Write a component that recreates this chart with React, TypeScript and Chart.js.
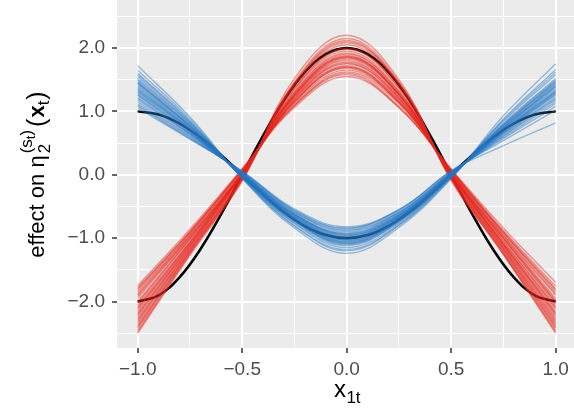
import React, { useEffect, useRef } from "react";
import { Chart, registerables } from "chart.js";
Chart.register(...registerables);

const sampleX = [-1, -0.75, -0.5, -0.25, 0, 0.25, 0.5, 0.75, 1];

const redSamples = [
  [-2.10, -1.06, 0.02, 1.25, 1.85, 1.27, 0.00, -1.08, -2.12],
  [-1.80, -0.90, 0.08, 1.15, 1.70, 1.14, 0.06, -0.92, -1.85],
  [-2.45, -1.24, -0.08, 1.44, 2.10, 1.45, -0.07, -1.25, -2.45],
  [-1.95, -0.98, 0.00, 1.19, 1.75, 1.20, 0.02, -1.02, -2.05],
  [-2.30, -1.16, -0.04, 1.36, 1.98, 1.37, -0.05, -1.19, -2.35],
  [-1.75, -0.86, 0.10, 1.09, 1.58, 1.06, 0.09, -0.84, -1.70],
  [-2.20, -1.11, 0.00, 1.30, 1.90, 1.31, 0.00, -1.13, -2.25],
  [-2.50, -1.27, -0.10, 1.52, 2.20, 1.50, -0.09, -1.26, -2.50],
  [-2.05, -1.02, 0.03, 1.23, 1.80, 1.22, 0.02, -1.00, -2.00],
  [-1.85, -0.93, 0.06, 1.13, 1.65, 1.14, 0.05, -0.97, -1.95],
  [-2.35, -1.19, -0.05, 1.40, 2.05, 1.41, -0.04, -1.22, -2.40],
  [-2.15, -1.08, 0.01, 1.28, 1.88, 1.27, 0.01, -1.10, -2.20],
  [-1.90, -0.96, 0.04, 1.15, 1.68, 1.14, 0.06, -0.90, -1.80],
  [-2.40, -1.21, -0.05, 1.34, 1.95, 1.33, -0.02, -1.16, -2.30],
  [-2.00, -1.00, 0.02, 1.21, 1.78, 1.22, 0.03, -1.05, -2.10],
  [-2.25, -1.13, -0.02, 1.31, 1.92, 1.30, -0.03, -1.15, -2.28],
  [-1.78, -0.89, 0.08, 1.11, 1.62, 1.12, 0.07, -0.94, -1.88],
  [-2.28, -1.15, 0.00, 1.27, 1.86, 1.26, 0.00, -1.10, -2.18],
  [-2.12, -1.07, 0.02, 1.20, 1.76, 1.19, 0.03, -0.99, -1.98],
  [-2.38, -1.20, -0.06, 1.42, 2.08, 1.43, -0.06, -1.22, -2.42],
  [-1.88, -0.94, 0.07, 1.09, 1.60, 1.08, 0.08, -0.91, -1.82],
  [-2.18, -1.10, 0.01, 1.25, 1.84, 1.26, 0.01, -1.09, -2.16],
  [-2.48, -1.25, -0.08, 1.47, 2.15, 1.47, -0.08, -1.25, -2.48],
  [-2.02, -1.01, 0.02, 1.17, 1.72, 1.17, 0.03, -1.01, -2.02],
  [-1.82, -0.91, 0.08, 1.06, 1.55, 1.06, 0.08, -0.88, -1.76],
  [-2.32, -1.17, -0.03, 1.37, 2.00, 1.37, -0.03, -1.17, -2.33],
  [-2.08, -1.05, 0.02, 1.24, 1.82, 1.25, 0.02, -1.05, -2.08],
  [-1.92, -0.97, 0.04, 1.16, 1.70, 1.16, 0.05, -0.96, -1.90],
  [-2.42, -1.22, -0.07, 1.45, 2.12, 1.44, -0.05, -1.19, -2.38],
  [-2.22, -1.12, 0.00, 1.27, 1.87, 1.28, 0.00, -1.12, -2.22],
];

const blueSamples = [
  [1.35, 0.72, 0.00, -0.67, -1.00, -0.67, 0.00, 0.70, 1.32],
  [1.10, 0.58, 0.05, -0.56, -0.85, -0.55, 0.05, 0.59, 1.12],
  [1.60, 0.85, -0.05, -0.80, -1.18, -0.79, -0.04, 0.86, 1.62],
  [1.25, 0.66, 0.02, -0.63, -0.95, -0.64, 0.02, 0.68, 1.28],
  [1.48, 0.78, -0.03, -0.73, -1.08, -0.72, -0.02, 0.77, 1.45],
  [1.05, 0.56, 0.06, -0.54, -0.82, -0.55, 0.06, 0.54, 1.02],
  [1.40, 0.74, 0.00, -0.69, -1.03, -0.70, 0.00, 0.73, 1.38],
  [1.72, 0.91, -0.06, -0.84, -1.24, -0.83, -0.06, 0.93, 1.75],
  [1.30, 0.69, 0.01, -0.66, -0.98, -0.66, 0.01, 0.69, 1.30],
  [1.18, 0.63, 0.03, -0.60, -0.90, -0.60, 0.03, 0.61, 1.15],
  [1.55, 0.82, -0.04, -0.76, -1.12, -0.75, -0.03, 0.81, 1.52],
  [1.38, 0.73, 0.00, -0.69, -1.02, -0.68, 0.00, 0.72, 1.36],
  [1.15, 0.61, 0.03, -0.59, -0.88, -0.59, 0.03, 0.64, 1.20],
  [1.52, 0.81, -0.03, -0.74, -1.10, -0.74, -0.02, 0.80, 1.50],
  [1.28, 0.68, 0.01, -0.64, -0.96, -0.64, 0.01, 0.66, 1.25],
  [1.45, 0.77, -0.02, -0.71, -1.06, -0.71, -0.01, 0.76, 1.44],
  [1.08, 0.57, 0.05, -0.56, -0.84, -0.56, 0.06, 0.46, 0.82],
  [1.42, 0.75, -0.01, -0.70, -1.05, -0.70, 0.00, 0.75, 1.42],
  [1.22, 0.65, 0.02, -0.62, -0.93, -0.62, 0.02, 0.65, 1.22],
  [1.65, 0.88, -0.05, -0.81, -1.20, -0.80, -0.05, 0.88, 1.66],
  [1.32, 0.70, 0.00, -0.66, -0.99, -0.66, 0.00, 0.71, 1.34],
  [1.20, 0.64, 0.03, -0.62, -0.92, -0.61, 0.03, 0.62, 1.18],
  [1.50, 0.80, -0.03, -0.73, -1.09, -0.73, -0.03, 0.78, 1.48],
  [1.36, 0.72, 0.00, -0.68, -1.01, -0.68, 0.00, 0.74, 1.40],
  [1.12, 0.60, 0.04, -0.58, -0.87, -0.58, 0.04, 0.57, 1.08],
  [1.44, 0.76, -0.02, -0.70, -1.04, -0.70, -0.01, 0.74, 1.40],
  [1.26, 0.67, 0.01, -0.63, -0.94, -0.63, 0.01, 0.67, 1.27],
  [1.58, 0.84, -0.04, -0.77, -1.15, -0.77, -0.03, 0.84, 1.58],
  [1.33, 0.71, 0.00, -0.65, -0.97, -0.65, 0.00, 0.69, 1.31],
  [1.46, 0.77, -0.02, -0.72, -1.07, -0.72, -0.01, 0.78, 1.47],
];

const truthX = [-1, -0.9, -0.8, -0.7, -0.6, -0.5, -0.4, -0.3, -0.2, -0.1, 0, 0.1, 0.2, 0.3, 0.4, 0.5, 0.6, 0.7, 0.8, 0.9, 1];
const redTruth = [-2, -1.902, -1.618, -1.176, -0.618, 0, 0.618, 1.176, 1.618, 1.902, 2, 1.902, 1.618, 1.176, 0.618, 0, -0.618, -1.176, -1.618, -1.902, -2];
const blueTruth = [1, 0.951, 0.809, 0.588, 0.309, 0, -0.309, -0.588, -0.809, -0.951, -1, -0.951, -0.809, -0.588, -0.309, 0, 0.309, 0.588, 0.809, 0.951, 1];

const xTicks = [-1, -0.75, -0.5, -0.25, 0, 0.25, 0.5, 0.75, 1];
const xMajor = [-1, -0.5, 0, 0.5, 1];
const yTicks = [-2.5, -2, -1.5, -1, -0.5, 0, 0.5, 1, 1.5, 2, 2.5];
const yMajor = [-2, -1, 0, 1, 2];

const RED = "rgba(228, 38, 28, 0.45)";
const BLUE = "rgba(38, 118, 192, 0.45)";
const FONT = '"Liberation Sans", Arial, sans-serif';

const fmt = (v: number) => (v < 0 ? "\u2212" : "") + Math.abs(v).toFixed(1);

const toPts = (xs: number[], ys: number[]) => xs.map((x, i) => ({ x, y: ys[i] }));

const titlesPlugin = {
  id: "titles",
  beforeDraw(chart: any) {
    const { ctx, chartArea } = chart;
    ctx.save();
    ctx.fillStyle = "#EBEBEB";
    ctx.fillRect(chartArea.left, chartArea.top, chartArea.right - chartArea.left, chartArea.bottom - chartArea.top);
    ctx.restore();
  },
  afterDraw(chart: any) {
    const { ctx } = chart;
    ctx.save();
    ctx.fillStyle = "#000";
    ctx.textBaseline = "alphabetic";
    const meas = (t: string, f: string) => { ctx.font = f; return ctx.measureText(t).width; };

    // x title: x_{1t}
    const xBig = `24px ${FONT}`;
    const xSmall = `17px ${FONT}`;
    const wx = meas("x", xBig);
    const ws = meas("1t", xSmall);
    const cx = 347;
    const sx = cx - (wx + ws) / 2;
    ctx.font = xBig;
    ctx.fillText("x", sx, 396.5);
    ctx.font = xSmall;
    ctx.fillText("1t", sx + wx + 0.5, 403);

    // y title: effect on η2^(s_t)(x_t)
    const big = `22px ${FONT}`;
    const paren = `25px ${FONT}`;
    const bold = `bold 22px ${FONT}`;
    const small = `17px ${FONT}`;
    const tiny = `13px ${FONT}`;
    ctx.translate(44, 174.5);
    ctx.rotate(-Math.PI / 2);
    const w1 = meas("effect on \u03B7", big);
    const w2 = meas("2", small);
    const w3 = meas("(s", small) + meas("t", tiny) + meas(")", small);
    const wStack = Math.max(w2, w3);
    const w4 = 2 * meas("(", paren) + meas("x", bold) + meas("t", small) + 2;
    const total = w1 + 2 + wStack + 3 + w4;
    let px = -total / 2;
    ctx.font = big;
    ctx.fillText("effect on \u03B7", px, 0);
    px += w1 + 2;
    ctx.font = small;
    ctx.fillText("2", px, 6);
    let qx = px;
    ctx.fillText("(s", qx, -12);
    qx += meas("(s", small);
    ctx.font = tiny;
    ctx.fillText("t", qx, -9);
    qx += meas("t", tiny);
    ctx.font = small;
    ctx.fillText(")", qx, -12);
    px += wStack + 3;
    ctx.font = paren;
    ctx.fillText("(", px, 1);
    px += meas("(", paren) + 1;
    ctx.font = bold;
    ctx.fillText("x", px, 0);
    px += meas("x", bold);
    ctx.font = small;
    ctx.fillText("t", px, 5);
    px += meas("t", small) + 1;
    ctx.font = paren;
    ctx.fillText(")", px, 1);
    ctx.restore();
  },
};

export default function App() {
  const ref = useRef<HTMLCanvasElement>(null);
  useEffect(() => {
    if (!ref.current) return;
    const datasets: any[] = [];
    blueSamples.forEach((ys) =>
      datasets.push({ data: toPts(sampleX, ys), borderColor: BLUE, borderWidth: 1.4, pointRadius: 0, tension: 0.4 })
    );
    redSamples.forEach((ys) =>
      datasets.push({ data: toPts(sampleX, ys), borderColor: RED, borderWidth: 1.4, pointRadius: 0, tension: 0.4 })
    );
    datasets.push({ data: toPts(truthX, redTruth), borderColor: "#000", borderWidth: 2.5, pointRadius: 0, tension: 0.4 });
    datasets.push({ data: toPts(truthX, blueTruth), borderColor: "#000", borderWidth: 2.5, pointRadius: 0, tension: 0.4 });

    const chart = new Chart(ref.current, {
      type: "line",
      data: { datasets },
      plugins: [titlesPlugin],
      options: {
        animation: false,
        responsive: false,
        layout: { padding: 0 },
        plugins: { legend: { display: false }, tooltip: { enabled: false } },
        scales: {
          x: {
            type: "linear",
            min: -1.099,
            max: 1.0876,
            afterBuildTicks: (axis: any) => { axis.ticks = xTicks.map((v) => ({ value: v })); },
            afterFit: (s: any) => { s.height = 62; s.paddingLeft = 0; s.paddingRight = 0; },
            border: { display: false },
            grid: {
              color: "#FFFFFF",
              lineWidth: (c: any) => (c.tick && xMajor.includes(c.tick.value) ? 2 : 1),
              tickColor: (c: any) => (c.tick && xMajor.includes(c.tick.value) ? "#333333" : "rgba(0,0,0,0)"),
              tickLength: 5,
              tickWidth: 1.5,
            },
            ticks: {
              autoSkip: false,
              maxRotation: 0,
              padding: 5,
              color: "#4D4D4D",
              font: { family: FONT, size: 19 },
              callback: (v: any) => (xMajor.includes(Number(v)) ? fmt(Number(v)) : ""),
            },
          },
          y: {
            type: "linear",
            min: -2.733,
            max: 2.757,
            afterBuildTicks: (axis: any) => { axis.ticks = yTicks.map((v) => ({ value: v })); },
            afterFit: (s: any) => { s.width = 117; s.paddingTop = 0; s.paddingBottom = 0; },
            border: { display: false },
            grid: {
              color: "#FFFFFF",
              lineWidth: (c: any) => (c.tick && yMajor.includes(c.tick.value) ? 2 : 1),
              tickColor: (c: any) => (c.tick && yMajor.includes(c.tick.value) ? "#333333" : "rgba(0,0,0,0)"),
              tickLength: 5,
              tickWidth: 1.5,
            },
            ticks: {
              autoSkip: false,
              padding: 7,
              color: "#4D4D4D",
              font: { family: FONT, size: 19 },
              callback: (v: any) => (yMajor.includes(Number(v)) ? fmt(Number(v)) : ""),
            },
          },
        },
      },
    });
    return () => chart.destroy();
  }, []);
  return (
    <div style={{ position: "absolute", left: 0, top: 0, width: 574, height: 410 }}>
      <canvas ref={ref} width={574} height={410} style={{ display: "block" }} />
    </div>
  );
}
